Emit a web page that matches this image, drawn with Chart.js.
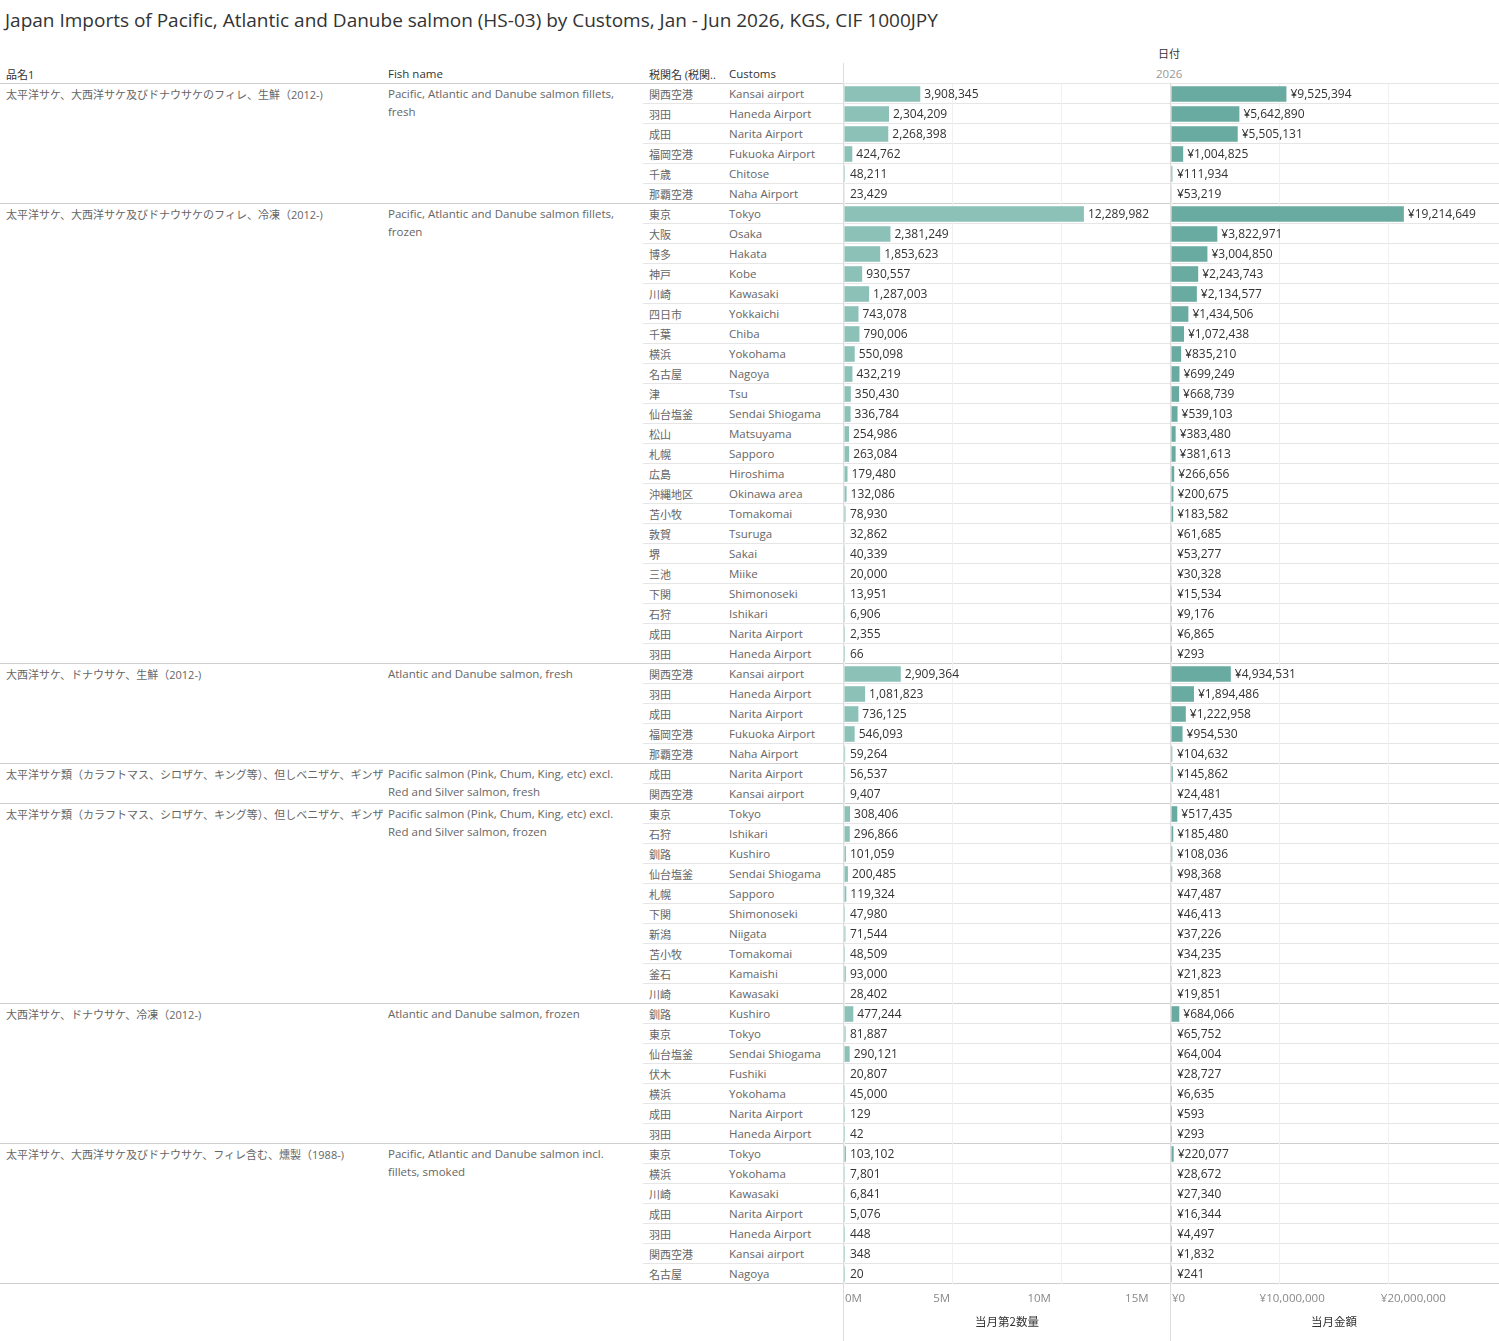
<!DOCTYPE html>
<html><head><meta charset="utf-8">
<script src="https://cdn.jsdelivr.net/npm/chart.js@4"></script>
<style>
body{margin:0;background:#fff;font-family:"Open Sans","Noto Sans CJK JP",sans-serif;color:#666;width:1499px;height:1341px;position:relative;overflow:hidden}
.a{position:absolute;white-space:nowrap;font-size:11.5px}
.j{font-size:11px;overflow:hidden;width:378px}
.t{font-size:19px;color:#333;left:5px;top:7px;font-family:"Open Sans",sans-serif}
.h{color:#333;font-size:11.5px}
.ln{position:absolute;height:0;border-top:1px solid #e6e6e6}
.g{border-top:1px solid #cfcfcf}
.w{white-space:normal;line-height:18px}
canvas{position:absolute}
</style></head><body>
<div class="a t">Japan Imports of Pacific, Atlantic and Danube salmon (HS-03) by Customs, Jan - Jun 2026, KGS, CIF 1000JPY</div>
<div class="a h" style="left:1158px;top:45px;font-size:11px">日付</div>
<div class="a" style="left:1156px;top:66px;color:#999">2026</div>
<div class="a h" style="left:6px;top:66px;font-size:11px">品名1</div>
<div class="a h" style="left:388px;top:66px">Fish name</div>
<div class="a h" style="left:649px;top:66px;font-size:11px">税関名 (税関..</div>
<div class="a h" style="left:729px;top:66px">Customs</div>
<div id="rows"></div>
<canvas id="c1" style="left:844px;top:84px"></canvas>
<canvas id="c2" style="left:1171px;top:84px"></canvas>
<div style="position:absolute;left:843px;top:63px;width:1px;height:1278px;background:#ddd"></div>
<div style="position:absolute;left:1170px;top:84px;width:1px;height:1257px;background:#ddd"></div>
<div class="ln" style="left:843px;width:656px;top:83px"></div>
<script>
const groupsJa=["太平洋サケ、大西洋サケ及びドナウサケのフィレ、生鮮（2012-)","太平洋サケ、大西洋サケ及びドナウサケのフィレ、冷凍（2012-)","大西洋サケ、ドナウサケ、生鮮（2012-)","太平洋サケ類（カラフトマス、シロザケ、キング等）、但しベニザケ、ギンザケを..","太平洋サケ類（カラフトマス、シロザケ、キング等）、但しベニザケ、ギンザケを..","大西洋サケ、ドナウサケ、冷凍（2012-)","太平洋サケ、大西洋サケ及びドナウサケ、フィレ含む、燻製（1988-)"];
const groupsEn=["Pacific, Atlantic and Danube salmon fillets, fresh","Pacific, Atlantic and Danube salmon fillets, frozen","Atlantic and Danube salmon, fresh","Pacific salmon (Pink, Chum, King, etc) excl. Red and Silver salmon, fresh","Pacific salmon (Pink, Chum, King, etc) excl. Red and Silver salmon, frozen","Atlantic and Danube salmon, frozen","Pacific, Atlantic and Danube salmon incl. fillets, smoked"];
const groupSizes=[6,23,5,2,10,7,7];
const customsJa=["関西空港","羽田","成田","福岡空港","千歳","那覇空港",
"東京","大阪","博多","神戸","川崎","四日市","千葉","横浜","名古屋","津","仙台塩釜","松山","札幌","広島","沖縄地区","苫小牧","敦賀","堺","三池","下関","石狩","成田","羽田",
"関西空港","羽田","成田","福岡空港","那覇空港",
"成田","関西空港",
"東京","石狩","釧路","仙台塩釜","札幌","下関","新潟","苫小牧","釜石","川崎",
"釧路","東京","仙台塩釜","伏木","横浜","成田","羽田",
"東京","横浜","川崎","成田","羽田","関西空港","名古屋"];
const customsEn=["Kansai airport","Haneda Airport","Narita Airport","Fukuoka Airport","Chitose","Naha Airport",
"Tokyo","Osaka","Hakata","Kobe","Kawasaki","Yokkaichi","Chiba","Yokohama","Nagoya","Tsu","Sendai Shiogama","Matsuyama","Sapporo","Hiroshima","Okinawa area","Tomakomai","Tsuruga","Sakai","Miike","Shimonoseki","Ishikari","Narita Airport","Haneda Airport",
"Kansai airport","Haneda Airport","Narita Airport","Fukuoka Airport","Naha Airport",
"Narita Airport","Kansai airport",
"Tokyo","Ishikari","Kushiro","Sendai Shiogama","Sapporo","Shimonoseki","Niigata","Tomakomai","Kamaishi","Kawasaki",
"Kushiro","Tokyo","Sendai Shiogama","Fushiki","Yokohama","Narita Airport","Haneda Airport",
"Tokyo","Yokohama","Kawasaki","Narita Airport","Haneda Airport","Kansai airport","Nagoya"];
const quantity=[3908345,2304209,2268398,424762,48211,23429,
12289982,2381249,1853623,930557,1287003,743078,790006,550098,432219,350430,336784,254986,263084,179480,132086,78930,32862,40339,20000,13951,6906,2355,66,
2909364,1081823,736125,546093,59264,
56537,9407,
308406,296866,101059,200485,119324,47980,71544,48509,93000,28402,
477244,81887,290121,20807,45000,129,42,
103102,7801,6841,5076,448,348,20];
const amount=[9525394,5642890,5505131,1004825,111934,53219,
19214649,3822971,3004850,2243743,2134577,1434506,1072438,835210,699249,668739,539103,383480,381613,266656,200675,183582,61685,53277,30328,15534,9176,6865,293,
4934531,1894486,1222958,954530,104632,
145862,24481,
517435,185480,108036,98368,47487,46413,37226,34235,21823,19851,
684066,65752,64004,28727,6635,593,293,
220077,28672,27340,16344,4497,1832,241];

const TOP=84,RH=20;
let h='',i=0;
groupSizes.forEach((n,g)=>{
  const y=TOP+i*RH;
  h+=`<div class="ln g" style="left:0;width:1499px;top:${y-1}px"></div>`;
  h+=`<div class="a j" style="left:6px;top:${y+2}px">${groupsJa[g]}</div>`;
  h+=`<div class="a w" style="left:388px;top:${y+1}px;width:245px">${groupsEn[g]}</div>`;
  for(let k=0;k<n;k++,i++){
    const yy=TOP+i*RH;
    if(k>0)h+=`<div class="ln" style="left:643px;width:856px;top:${yy-1}px"></div>`;
    h+=`<div class="a" style="left:649px;top:${yy+2}px;font-size:11px">${customsJa[i]}</div>`;
    h+=`<div class="a" style="left:729px;top:${yy+2}px">${customsEn[i]}</div>`;
  }
});
h+=`<div class="ln g" style="left:0;width:1499px;top:${TOP+60*RH-1}px"></div>`;
document.getElementById('rows').innerHTML=h;

const labels=customsEn.map((c,k)=>k);
function mk(id,data,max,step,col,fmtBar,fmtTick,title){
  const el=document.getElementById(id);
  el.width=326;el.height=1257;el.style.width='326px';el.style.height='1257px';
  const plug={id:'lbl'+id,afterDatasetsDraw(ch){
    const c=ch.ctx,m=ch.getDatasetMeta(0),xs=ch.scales.x;
    c.save();c.font='12px "Open Sans", sans-serif';c.fillStyle='#333';c.textBaseline='middle';
    m.data.forEach((b,k)=>c.fillText(fmtBar(data[k]),Math.max(b.x,xs.left+2)+4,b.y+1));
    c.fillStyle='#888';c.font='11.5px "Open Sans", sans-serif';c.textBaseline='top';
    for(let v=0;v<=max;v+=step){c.textAlign=v===0?'left':'center';c.fillText(fmtTick(v),xs.getPixelForValue(v)+(v===0?1:0),ch.chartArea.bottom+9);}
    c.fillStyle='#333';c.textAlign='center';c.font='11.5px "Noto Sans CJK JP", sans-serif';
    c.fillText(title,(xs.left+xs.right)/2,ch.chartArea.bottom+32);
    c.restore();}};
  new Chart(el,{type:'bar',data:{labels,datasets:[{data,backgroundColor:col,barPercentage:0.78,categoryPercentage:1}]},
   options:{indexAxis:'y',responsive:false,animation:false,layout:{padding:0},
    plugins:{legend:{display:false},tooltip:{enabled:false}},
    scales:{y:{display:false},
     x:{min:0,max:max,afterFit:s=>{s.height=57},ticks:{display:false,stepSize:step},
        grid:{color:'#f0f0f0',drawTicks:false},border:{display:false}}}},plugins:[plug]});
}
mk('c1',quantity,16700000,5000000,'#8cc1b8',v=>v.toLocaleString('en-US'),v=>(v/1e6)+'M','当月第2数量');
mk('c2',amount,26900000,10000000,'#6aaba1',v=>'¥'+v.toLocaleString('en-US'),v=>'¥'+v.toLocaleString('en-US'),'当月金額');
</script></body></html>
